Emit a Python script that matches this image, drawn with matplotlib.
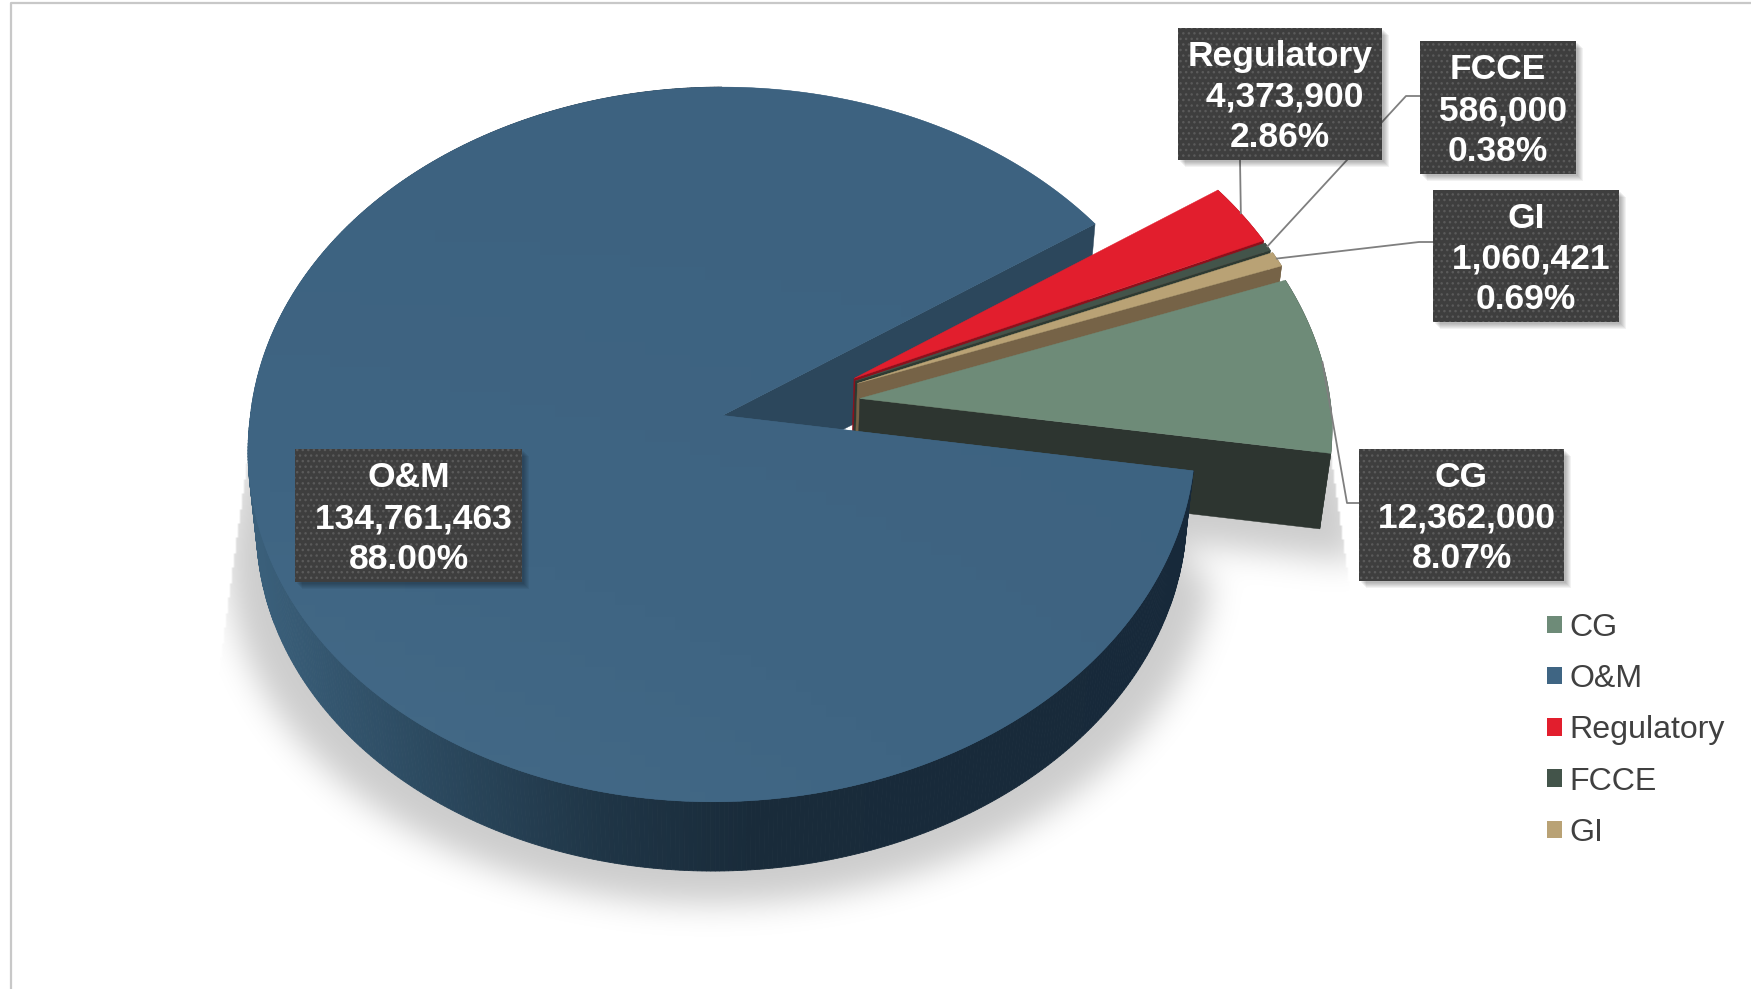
import numpy as np
import matplotlib
matplotlib.use("Agg")
import matplotlib.pyplot as plt
from matplotlib.colors import LinearSegmentedColormap, to_rgb
from matplotlib.patches import Patch, Polygon, Rectangle
from matplotlib.path import Path

names = ["CG", "O&M", "Regulatory", "FCCE", "GI"]
values = [12362000, 134761463, 4373900, 586000, 1060421]
top_colors = ["#6e8b78", "#3f6583", "#e21e2d", "#43544a", "#b9a275"]
wall_colors = ["#2d3530", "#2c475c", "#8e0f1b", "#2d3a32", "#766347"]

first_angle = 20.2
explode = [0.296, 0, 0.300, 0.300, 0.302]
explode_dir = [9.3, 0, 20.5, 19.0, 17.5]

# label boxes in pixels: left, top, right, bottom
boxes = {
    "CG": (1359, 449, 1564, 581),
    "O&M": (295, 449, 522, 582),
    "Regulatory": (1178, 28, 1382, 160),
    "FCCE": (1420, 41, 1576, 174),
    "GI": (1433, 190, 1619, 322),
}

W, H = 1751, 989
# perspective of the pie plane
CX, CY, F, G, K, SKEW = 722.5, 415.4, 472.0, 355.0, 0.0813, 10.0
# the lower face is the upper one pulled towards a far vanishing point
VX, VY, S = 714.0, 4648.0, 0.982


def to_screen(X, Y):
    w = 1 + K * Y
    return CX + F * X / w + SKEW * np.minimum(Y, 0), CY - G * Y / w


def drop(x, y):
    return VX + (x - VX) * S, VY + (y - VY) * S


def slice_points(i, a0, a1):
    off = np.radians(explode_dir[i])
    ox, oy = explode[i] * np.cos(off), explode[i] * np.sin(off)
    t = np.radians(np.linspace(a0, a1, max(int(a1 - a0) * 2, 12)))
    rx, ry = to_screen(ox + np.cos(t), oy + np.sin(t))
    ax_, ay_ = to_screen(ox, oy)
    return (ax_, ay_), rx, ry, t


def wall_shade(x):
    stops = [260, 420, 600, 750, 1200]
    cols = np.array([to_rgb(c) for c in ["#3a5f7a", "#2c4a60", "#1f3546", "#192b3a", "#17293a"]])
    return [np.interp(x, stops, cols[:, j]) for j in range(3)]


def side_face(i, a0, a1, z):
    apex, rx, ry, t = slice_points(i, a0, a1)
    ex, ey = [apex[0], rx[0]], [apex[1], ry[0]]
    bx, by = drop(np.array(ex), np.array(ey))
    ax.fill(np.r_[ex, bx[::-1]], np.r_[ey, by[::-1]], color=wall_colors[i], lw=0.3, zorder=z)


fracs = np.array(values) / sum(values)
spans = {}
start = first_angle
for i in range(len(names)):
    spans[i] = (start - fracs[i] * 360, start)
    start -= fracs[i] * 360

fig = plt.figure(figsize=(W / 100, H / 100), dpi=100)
ax = fig.add_axes([0, 0, 1, 1])
ax.axis("off")

# soft shadow below the whole pie
gx, gy = np.meshgrid(np.arange(0, W, 2) + 1.0, np.arange(0, H, 2) + 1.0)
mask = np.zeros(gx.shape)
grid = np.column_stack([gx.ravel(), gy.ravel()])
for i in spans:
    apex, rx, ry, t = slice_points(i, *spans[i])
    bx, by = drop(np.r_[apex[0], rx], np.r_[apex[1], ry])
    for scale, shift in [(1.06, 34), (1.03, 17), (1.0, 0)]:
        sx = CX + (bx - CX) * scale
        inside = Path(np.column_stack([sx, by + shift])).contains_points(grid)
        mask = np.maximum(mask, inside.reshape(gx.shape))
fy = np.fft.fftfreq(mask.shape[0])[:, None]
fx = np.fft.rfftfreq(mask.shape[1])[None, :]
sigma = 8
blur = np.fft.irfft2(np.fft.rfft2(mask) * np.exp(-2 * (np.pi * sigma) ** 2 * (fx ** 2 + fy ** 2)), s=mask.shape)
left_edge = 248 + (457 - gy) * 27 / 201
right_edge = 1331 + (gy - 456) * 18 / 125
blur = blur * (gx > left_edge) * (gx < right_edge) * (gy > 455)
shadow = np.zeros(mask.shape + (4,))
shadow[..., 3] = np.clip(blur, 0, 1) * 0.2
ax.imshow(shadow, extent=(0, W, H, 0), aspect="auto", zorder=1, interpolation="bilinear")

# the cut face of O&M sits behind the pulled out slices
om = names.index("O&M")
side_face(om, *spans[om], 2)

# pulled out slices back to front
z = 3
for i in [2, 3, 4, 0]:
    a0, a1 = spans[i]
    side_face(i, a0, a1, z)
    apex, rx, ry, t = slice_points(i, a0, a1)
    lx, ly = drop(rx, ry)
    ax.fill(np.r_[rx, lx[::-1]], np.r_[ry, ly[::-1]], color=wall_colors[i], lw=0.3, zorder=z)
    ax.fill(np.r_[apex[0], rx], np.r_[apex[1], ry], color=top_colors[i], lw=0.3, zorder=z)
    z += 1

# O&M rim and top go over the rest
apex, rx, ry, t = slice_points(om, *spans[om])
lx, ly = drop(rx, ry)
for j in range(len(rx) - 1):
    if np.cos(t[j]) > 0 and np.sin(t[j]) > 0:
        continue
    ax.fill([rx[j], rx[j + 1], lx[j + 1], lx[j]], [ry[j], ry[j + 1], ly[j + 1], ly[j]],
            color=wall_shade(rx[j]), lw=0.6, zorder=z)
top = Polygon(np.column_stack([np.r_[apex[0], rx], np.r_[apex[1], ry]]), closed=True,
              fc=top_colors[om], ec=top_colors[om], lw=0.3, zorder=z)
ax.add_patch(top)
cmap = LinearSegmentedColormap.from_list("om", ["#3d6280", "#3f6583", "#466c89"])
ramp = np.linspace(0, 1, 64)[:, None] * np.linspace(1, 0.4, 64)[None, :]
im = ax.imshow(ramp, cmap=cmap, extent=(240, 1200, 880, 80), aspect="auto", zorder=z, vmin=0, vmax=1)
im.set_clip_path(top)

# leader lines from the middle of each outer edge to its box
leaders = {
    "CG": lambda b: [(b[0], 503), (b[0] - 12, 503)],
    "Regulatory": lambda b: [(1240, b[3])],
    "FCCE": lambda b: [(b[0], 96), (b[0] - 14, 96)],
    "GI": lambda b: [(b[0], 242), (b[0] - 14, 242)],
}
for i, name in enumerate(names):
    if name not in leaders:
        continue
    apex, rx, ry, t = slice_points(i, *spans[i])
    pts = leaders[name](boxes[name]) + [(rx[len(rx) // 2], ry[len(ry) // 2])]
    ax.plot(*zip(*pts), color="#7f7f7f", lw=1.3, zorder=9, solid_joinstyle="round")

# data label boxes
for i, name in enumerate(names):
    x0, y0, x1, y1 = boxes[name]
    for d in range(1, 7):
        ax.add_patch(Rectangle((x0 + d + 1, y0 + d + 1), x1 - x0, y1 - y0, fc="black", alpha=0.05, lw=0, zorder=10))
    ax.add_patch(Rectangle((x0, y0), x1 - x0, y1 - y0, fc="#3e3e3e", ec="#5a5a5a", hatch="...", lw=0, zorder=11))
    label = f"{name}\n {values[i]:,}\n{fracs[i] * 100:.2f}%"
    ax.text((x0 + x1) / 2, (y0 + y1) / 2 + 3, label, color="white", family="Liberation Sans", weight="bold",
            fontsize=25.5, ha="center", va="center", multialignment="center", linespacing=1.3, zorder=12)

# chart frame, only the top and left sides are inside the picture
ax.plot([11, 11, W], [H, 3, 3], color="#c8c8c8", lw=1.6, zorder=0)

handles = [Patch(fc=c, lw=0) for c in top_colors]
ax.legend(handles, names, loc="upper left", bbox_to_anchor=(1547 / W, 1 - 613 / H), frameon=False,
          prop={"family": "Liberation Sans", "size": 23.1}, labelcolor="#404040", handlelength=0.46,
          handleheight=0.46, handletextpad=0.25, labelspacing=0.66, borderpad=0, borderaxespad=0)

ax.set_xlim(0, W)
ax.set_ylim(H, 0)
fig.savefig("out.png", dpi=100)
